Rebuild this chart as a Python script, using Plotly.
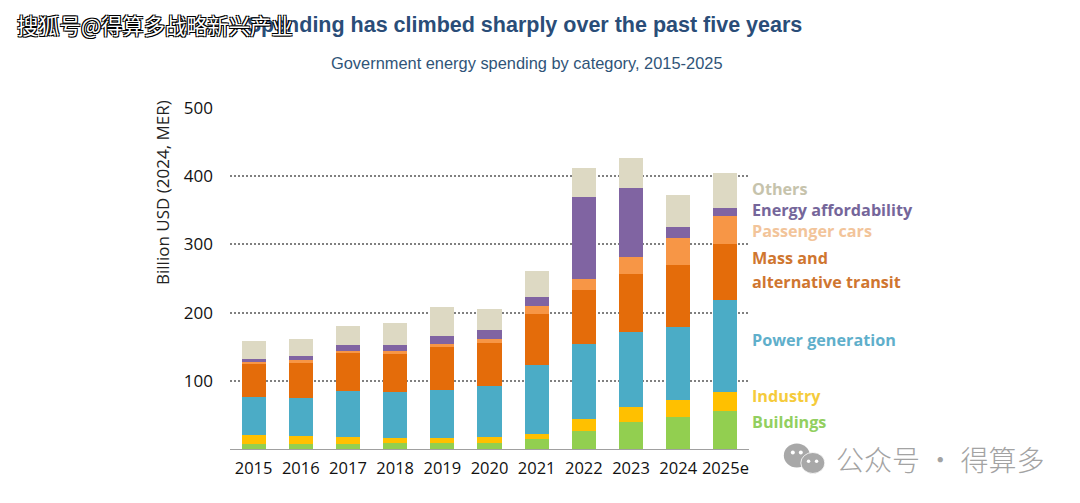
import plotly.graph_objects as go

W, H = 1080, 503
PLOT_L, PLOT_R, PLOT_T, PLOT_B = 230.4, 749.2, 108.0, 449.5

years = ["2015", "2016", "2017", "2018", "2019", "2020", "2021", "2022", "2023", "2024", "2025e"]
buildings = [8, 8, 8, 8.5, 9.5, 9, 14, 27, 40, 47.5, 55]
industry = [12, 10.5, 9, 7, 6, 8, 8, 17, 22, 24.5, 28]
power = [56, 56, 68, 68.5, 70.5, 75, 101, 110, 109.5, 107, 136]
mass_transit = [48, 53, 56, 56, 64, 63, 75, 78.5, 85.5, 91.5, 81.5]
passenger_cars = [3, 2.5, 3, 4, 4.5, 7, 11, 17.5, 25, 39, 41]
affordability = [5.5, 7, 8, 8, 10.5, 12.5, 14, 119, 100.5, 16.5, 12]
others = [26.5, 25, 28, 33, 42.5, 31, 38, 43, 43.5, 46, 51.5]

series = [
    ("Buildings", buildings, "#92CF50"),
    ("Industry", industry, "#FFC000"),
    ("Power generation", power, "#4BACC6"),
    ("Mass and alternative transit", mass_transit, "#E46C0A"),
    ("Passenger cars", passenger_cars, "#F79646"),
    ("Energy affordability", affordability, "#8064A2"),
    ("Others", others, "#DDD9C3"),
]

# Row labels beside the last bar: text, colour, vertical pixel position
side_labels = [
    ("Others", "#C6C3AC", 189),
    ("Energy affordability", "#75669A", 210),
    ("Passenger cars", "#F2C49A", 231),
    ("Mass and", "#CF7630", 258),
    ("alternative transit", "#CF7630", 282),
    ("Power generation", "#5FAFCB", 340),
    ("Industry", "#F5CB3C", 396),
    ("Buildings", "#92CF60", 422),
]

TEXT_FONT = "Open Sans"


# Page pixels to plot-area fractions, for items placed outside the axes
def px(x):
    return (x - PLOT_L) / (PLOT_R - PLOT_L)


def py(y):
    return (PLOT_B - y) / (PLOT_B - PLOT_T)


fig = go.Figure()
for name, values, colour in series:
    fig.add_trace(go.Bar(x=years, y=values, name=name, marker=dict(color=colour, line_width=0)))

annotations = [
    dict(text="Government energy spending by category, 2015-2025", x=px(527.5), y=py(63),
         font=dict(family="Liberation Sans", size=16.4, color="#2F5478")),
    dict(text="Billion USD (2024, MER)", x=px(163), y=py(192.5), textangle=-90,
         font=dict(family=TEXT_FONT, size=17, color="#222222")),
    # Publisher marks
    dict(text="搜狐号@得算多战略新兴产业", x=px(15), y=py(24), xanchor="left",
         font=dict(family="Noto Sans CJK SC", size=21.3, color="#FFFFFF",
                   shadow="1px 1px 0 #000, -1px -1px 0 #000, 1px -1px 0 #000, -1px 1px 0 #000")),
    dict(text="公众号 · 得算多", x=px(834), y=py(460), xanchor="left",
         font=dict(family="Noto Sans CJK SC", size=28, color="#A3A3A3", weight=300)),
]
for text, colour, y in side_labels:
    annotations.append(dict(text=text, x=px(750.5), y=py(y), xanchor="left",
                            font=dict(family=TEXT_FONT, size=16.2, color=colour, weight=700)))
for a in annotations:
    a.update(xref="paper", yref="paper", yanchor="middle", showarrow=False)
    a.setdefault("xanchor", "center")

# Chat-bubble badge next to the bottom publisher mark
bubble = "#A8A8A8"
shapes = [
    dict(type="circle", x0=px(784), x1=px(810), y0=py(444), y1=py(468), fillcolor=bubble, line_width=0),
    dict(type="circle", x0=px(801), x1=px(825), y0=py(453), y1=py(474), fillcolor=bubble, line_width=0.8,
         line_color="#FFFFFF"),
    dict(type="circle", x0=px(791), x1=px(795), y0=py(451), y1=py(455), fillcolor="#FFFFFF", line_width=0),
    dict(type="circle", x0=px(799), x1=px(803), y0=py(451), y1=py(455), fillcolor="#FFFFFF", line_width=0),
    dict(type="circle", x0=px(807), x1=px(810.5), y0=py(460), y1=py(463.5), fillcolor="#FFFFFF", line_width=0),
    dict(type="circle", x0=px(815), x1=px(818.5), y0=py(460), y1=py(463.5), fillcolor="#FFFFFF", line_width=0),
]
for s in shapes:
    s.update(xref="paper", yref="paper", layer="above")

fig.update_layout(
    width=W,
    height=H,
    barmode="stack",
    bargap=0.49,
    showlegend=False,
    paper_bgcolor="#FFFFFF",
    plot_bgcolor="#FFFFFF",
    margin=dict(l=PLOT_L, r=W - PLOT_R, t=PLOT_T, b=H - PLOT_B, autoexpand=False),
    title=dict(text="Spending has climbed sharply over the past five years", x=524.5 / W, xanchor="center",
               y=1 - 24.5 / H, yanchor="middle", xref="container", yref="container",
               font=dict(family="Liberation Sans", size=21.5, color="#2A4D78", weight="bold")),
    xaxis=dict(type="category", showgrid=False, showline=True, linecolor="#A0A0A0", linewidth=1,
               ticks="", tickfont=dict(family=TEXT_FONT, size=16.5, color="#111111"), ticklabelstandoff=4),
    yaxis=dict(range=[0, 500], tickvals=[100, 200, 300, 400, 500], showline=False, zeroline=False,
               showgrid=True, gridcolor="#808080", griddash="2px,2px", gridwidth=2, ticks="",
               tickfont=dict(family=TEXT_FONT, size=17, color="#111111"), ticklabelstandoff=16),
    annotations=annotations,
    shapes=shapes,
)

fig.write_html("out.html")
